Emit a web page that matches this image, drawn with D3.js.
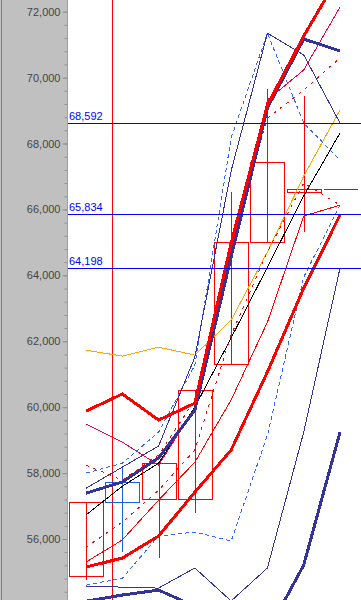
<!DOCTYPE html>
<html>
<head>
<meta charset="utf-8">
<script src="https://cdn.jsdelivr.net/npm/d3@7"></script>
<style>
  body { margin: 0; background: #fff; }
  svg { display: block; }
  text { font-family: Arial, "Liberation Sans", sans-serif; font-size: 11px; }
</style>
</head>
<body>
<script>
// 画布尺寸
var w = 361,
  h = 600,
  axisX = 67; // 左侧灰色坐标轴区域的右边界

// 周期（只截到 8 根 K 线）
var periods = [0, 1, 2, 3, 4, 5, 6, 7];

// K 线数据
var candleOpen = [54870, 57730, 57210, 57210, 61310, 65010, 66530, 66620];
var candleClose = [57120, 57120, 58300, 60520, 65010, 67440, 66620, 66620];
var candleHigh = [57120, 58150, 58300, 60520, 66530, 69650, 69440, 66620];
var candleLow = [54750, 55600, 55420, 56790, 61310, 65010, 65310, 66620];

// 各条指标线
var thickRedA = [59880, 60400, 59610, 60120, 64980, 69170, 71260, 73150];
var thickRedB = [55150, 55420, 56090, 57420, 58700, 61070, 63610, 65830];
var thickNavyA = [57390, 57730, 58460, 59910, 64560, 69080, 71170, 70810];
var thickNavyB = [54110, 54300, 54450, 53960, 53540, 53170, 55210, 59240];
var thinNavyA = [57540, 58180, 58820, 61520, 67170, 71350, 70690, 68620];
var thinNavyB = [54570, 54540, 54510, 55120, 54120, 55120, 59240, 64220];
var dashBlueA = [58000, 58300, 59240, 61280, 68170, 71350, 68620, 67500];
var dashBlueB = [54600, 54810, 56090, 56210, 55940, 59150, 63950, 66130];
var thinRed = [55300, 55970, 57180, 58330, 60220, 62580, 65800, 66130];
var pinkLine = [59490, 58940, 58240, 59970, 64770, 69320, 70230, 72140];
var dashRedA = [58240, 57790, 58550, 60220, 65070, 68770, 69620, 70600];
var dashRedB = [55750, 56510, 57480, 58700, 62190, 64710, 66800, 66130];
var blackLine = [56730, 57600, 58300, 60000, 62100, 64250, 66410, 68320];
var orangeLine = [61730, 61550, 61820, 61580, 62640, 64710, 67010, 69020];

// 水平标记线 和 竖直标记线
var hMarks = [68592, 65834, 64198];
var vMark = 0.72;

// 纵轴刻度
var yTicks = [56000, 58000, 60000, 62000, 64000, 66000, 68000, 70000, 72000];
var yMinor = d3.range(54400, 72800, 400);

// 线条样式表
var series = [
  { v: orangeLine, color: "#ffa500", width: 1 },
  { v: blackLine, color: "#000000", width: 1 },
  { v: dashRedA, color: "#ff0000", width: 1, dash: "3,5" },
  { v: dashRedB, color: "#ff0000", width: 1, dash: "3,5" },
  { v: dashBlueA, color: "#3366ff", width: 1, dash: "4,3" },
  { v: dashBlueB, color: "#3366ff", width: 1, dash: "4,3" },
  { v: thinNavyA, color: "#333399", width: 1 },
  { v: thinNavyB, color: "#333399", width: 1 },
  { v: thinRed, color: "#ff0000", width: 1 },
  { v: pinkLine, color: "#ee0044", width: 1 },
  { v: thickNavyB, color: "#333399", width: 3 },
  { v: thickRedB, color: "#ff0000", width: 3 },
  { v: thickNavyA, color: "#333399", width: 3 },
  { v: thickRedA, color: "#ff0000", width: 3 },
];

var svg = d3
  .select("body")
  .append("svg")
  .attr("width", w)
  .attr("height", h);

// 比例尺
var x = d3.scaleLinear().domain([0, 7]).range([86, 340]);
var y = d3.scaleLinear().domain([56000, 72000]).range([539, 11.7]);
var boxW = 34;

// 绘图区背景
svg
  .append("rect")
  .attr("x", axisX)
  .attr("y", 0)
  .attr("width", w - axisX)
  .attr("height", h)
  .attr("fill", "#ffffff");

svg
  .append("clipPath")
  .attr("id", "plot")
  .append("rect")
  .attr("x", axisX + 1)
  .attr("y", 0)
  .attr("width", w - axisX)
  .attr("height", h);

var plot = svg.append("g").attr("clip-path", "url(#plot)");

// 竖直标记线
plot
  .append("line")
  .attr("x1", Math.round(x(vMark)) + 0.5)
  .attr("x2", Math.round(x(vMark)) + 0.5)
  .attr("y1", 0)
  .attr("y2", h)
  .attr("stroke", "#ff0000")
  .attr("shape-rendering", "crispEdges");

// K 线：影线 + 空心实体（用 path 画，开盘=收盘时也能显示一条横线）
var candle = plot
  .selectAll(".candle")
  .data(periods)
  .enter()
  .append("g")
  .attr("class", "candle")
  .attr("stroke", function (i) {
    return candleClose[i] < candleOpen[i] ? "#1166dd" : "#ff0000";
  })
  .attr("fill", "none")
  .attr("shape-rendering", "crispEdges");

candle
  .append("line")
  .attr("x1", function (i) {
    return Math.round(x(i)) + 0.5;
  })
  .attr("x2", function (i) {
    return Math.round(x(i)) + 0.5;
  })
  .attr("y1", function (i) {
    return y(candleHigh[i]);
  })
  .attr("y2", function (i) {
    return y(candleLow[i]);
  });

candle.append("path").attr("d", function (i) {
  var x0 = Math.round(x(i) - boxW / 2) + 0.5,
    x1 = x0 + boxW,
    y0 = Math.round(y(Math.max(candleOpen[i], candleClose[i]))) + 0.5,
    y1 = Math.round(y(Math.min(candleOpen[i], candleClose[i]))) + 0.5;
  return "M" + x0 + "," + y0 + "H" + x1 + "V" + y1 + "H" + x0 + "Z";
});

// 指标线
var line = d3
  .line()
  .x(function (d, i) {
    return x(i);
  })
  .y(function (d) {
    return y(d);
  });

plot
  .selectAll(".series")
  .data(series)
  .enter()
  .append("path")
  .attr("class", "series")
  .attr("d", function (s) {
    return line(s.v);
  })
  .attr("fill", "none")
  .attr("stroke", function (s) {
    return s.color;
  })
  .attr("stroke-width", function (s) {
    return s.width;
  })
  .attr("stroke-dasharray", function (s) {
    return s.dash || null;
  })
  .attr("stroke-linejoin", "round")
  .attr("shape-rendering", "crispEdges");

// 水平标记线及其数值
var fmt = d3.format(",");
svg
  .selectAll(".hmark")
  .data(hMarks)
  .enter()
  .append("rect")
  .attr("class", "hmark")
  .attr("x", axisX + 1)
  .attr("width", w - axisX)
  .attr("y", function (d) {
    return Math.round(y(d)) - 1;
  })
  .attr("height", 1)
  .attr("fill", "#0000ff")
  .attr("shape-rendering", "crispEdges");

svg
  .selectAll(".hlabel")
  .data(hMarks)
  .enter()
  .append("text")
  .attr("class", "hlabel")
  .attr("x", axisX + 2)
  .attr("y", function (d) {
    return Math.round(y(d)) - 4;
  })
  .attr("fill", "#0000ff")
  .text(function (d) {
    return fmt(d);
  });

// 左侧灰色坐标轴面板
svg
  .append("rect")
  .attr("x", 0)
  .attr("y", 0)
  .attr("width", axisX)
  .attr("height", h)
  .attr("fill", "#c0c0c0");

svg
  .append("line")
  .attr("x1", 1.5)
  .attr("x2", 1.5)
  .attr("y1", 0)
  .attr("y2", h)
  .attr("stroke", "#808080");

// 次刻度
var minorAxis = d3
  .axisLeft(y)
  .tickValues(yMinor)
  .tickSize(3)
  .tickFormat("");

svg
  .append("g")
  .attr("transform", "translate(" + (axisX + 0.5) + ",0)")
  .call(minorAxis)
  .call(function (g) {
    g.select(".domain").remove();
    g.selectAll("line").attr("stroke", "#909090");
  });

// 主刻度
var yAxis = d3
  .axisLeft(y)
  .tickValues(yTicks)
  .tickSize(5)
  .tickPadding(2)
  .tickFormat(fmt);

svg
  .append("g")
  .attr("transform", "translate(" + (axisX + 0.5) + ",0)")
  .call(yAxis)
  .call(function (g) {
    g.select(".domain").remove();
    g.selectAll("line").attr("stroke", "#909090");
    g.selectAll("text")
      .attr("fill", "#444444")
      .style("font-family", "Arial, 'Liberation Sans', sans-serif")
      .style("font-size", "11px");
  });

// 坐标轴竖线
svg
  .append("line")
  .attr("x1", axisX + 0.5)
  .attr("x2", axisX + 0.5)
  .attr("y1", 0)
  .attr("y2", h)
  .attr("stroke", "#a0a0a0");
</script>
</body>
</html>
